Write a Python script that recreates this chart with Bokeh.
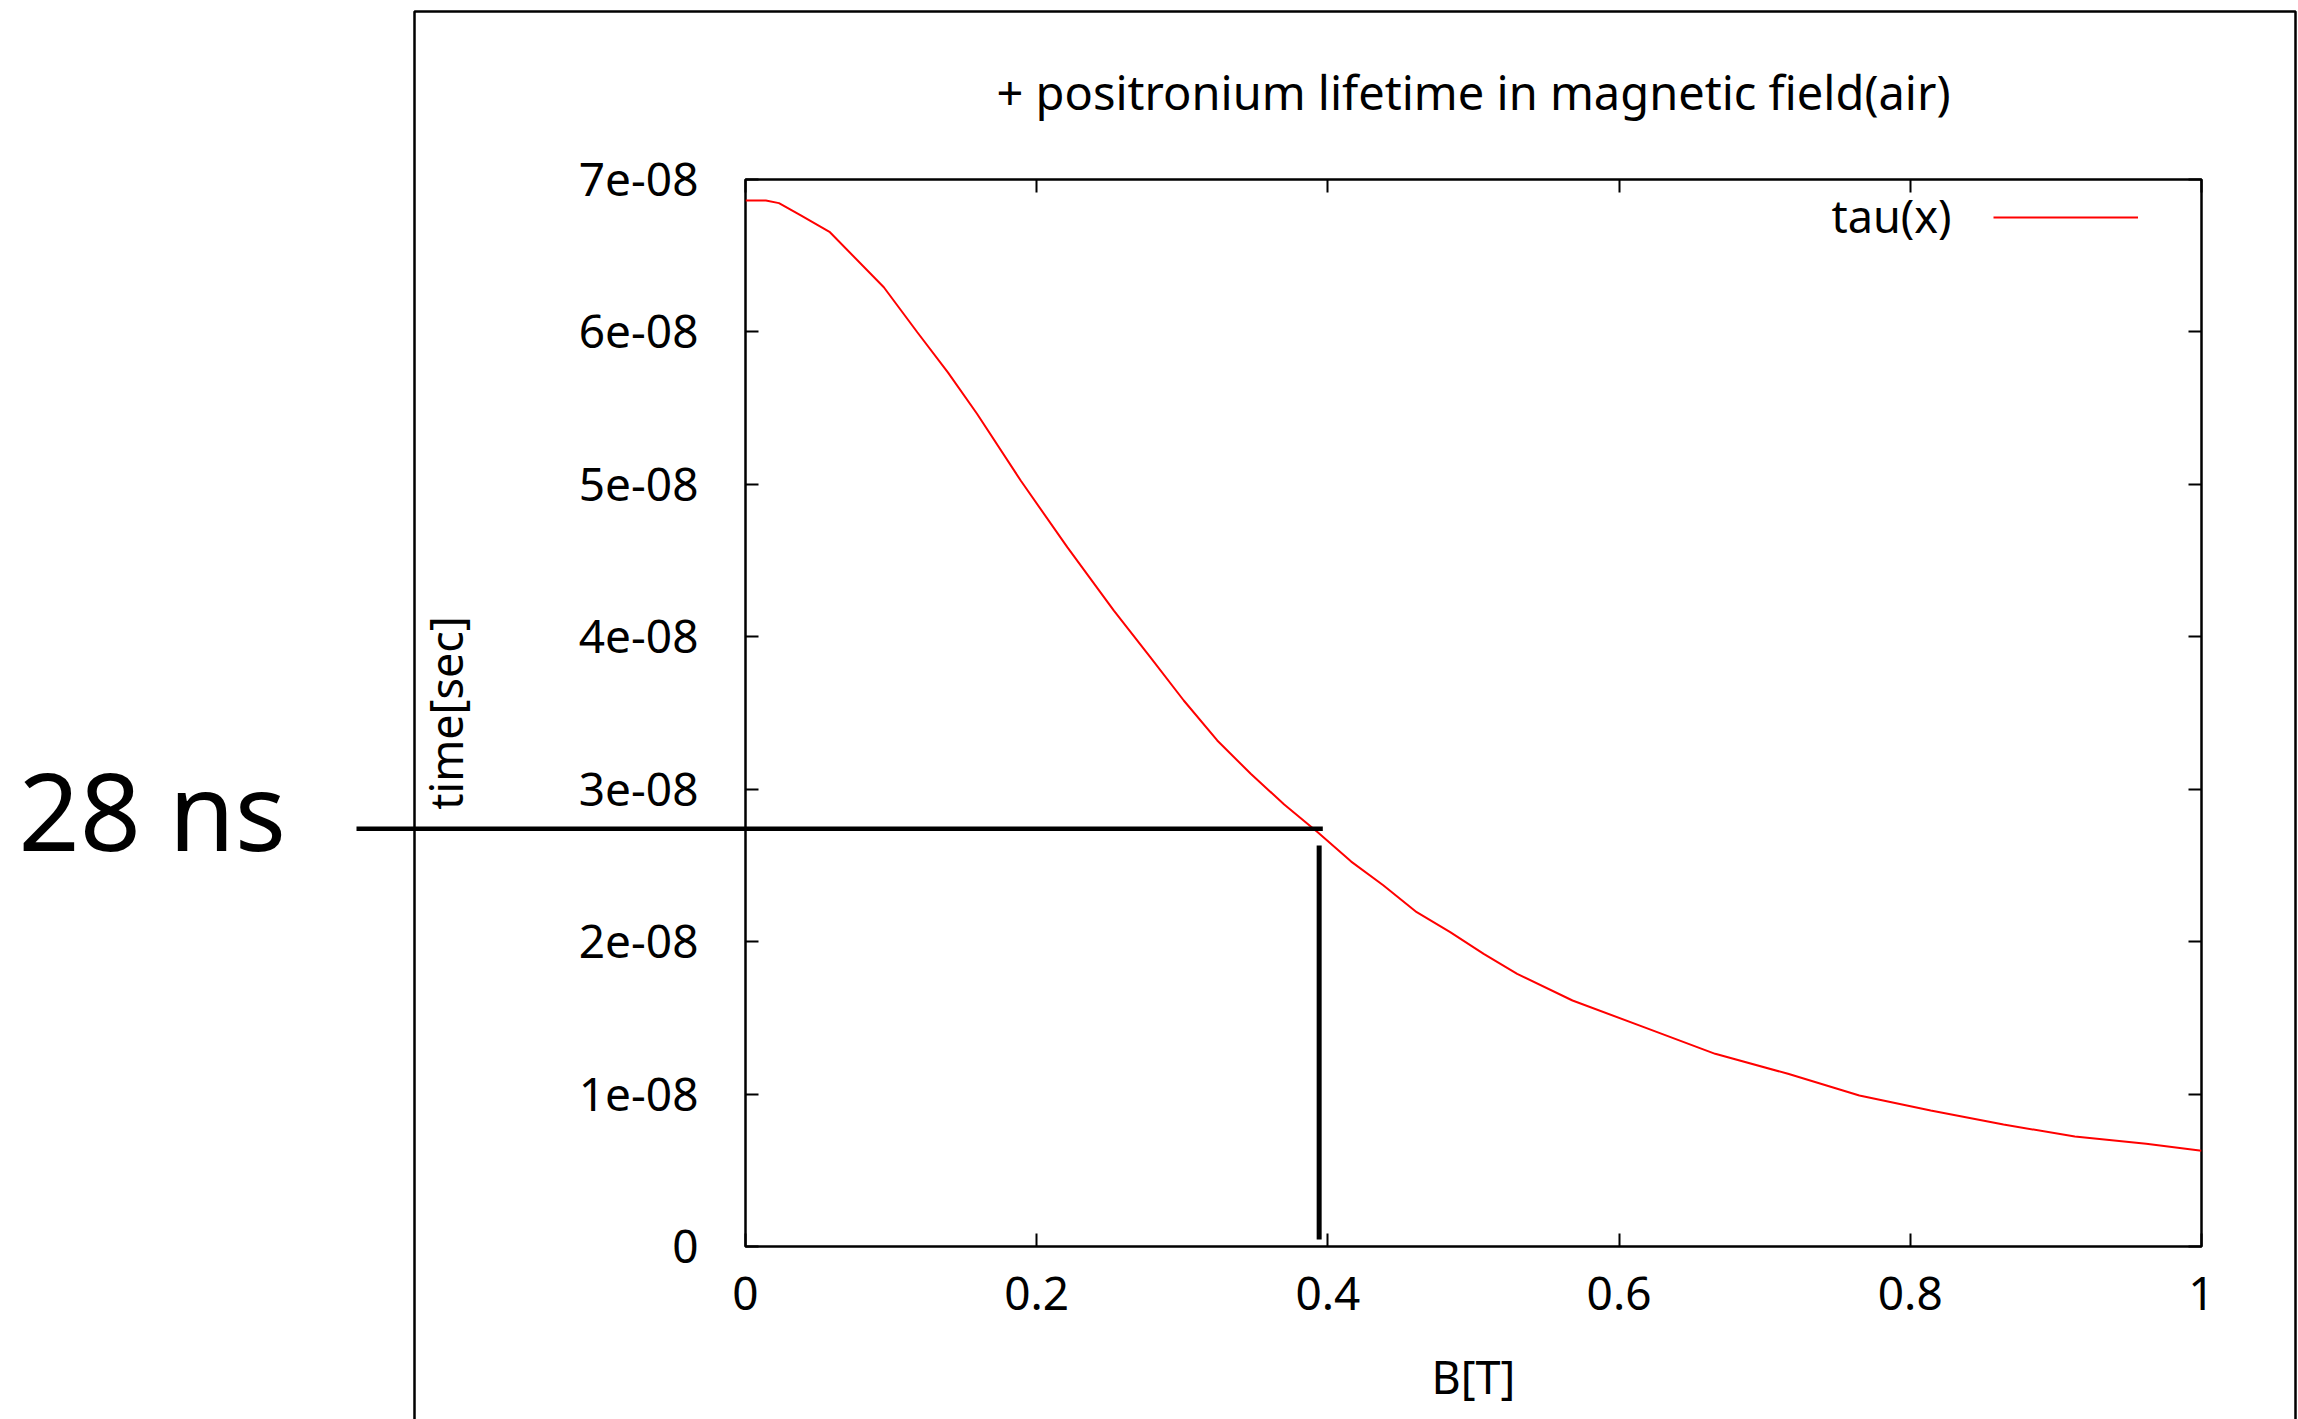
from bokeh.plotting import figure
from bokeh.models import (LinearAxis, Range1d, Label, Legend, LegendItem, FixedTicker,
                          CustomJSTickFormatter)
from bokeh.core.properties import value
from bokeh.embed import file_html
from bokeh.resources import INLINE

# ---------------- data ----------------
B_field = [0.000, 0.014, 0.023, 0.038, 0.058, 0.095, 0.118, 0.139, 0.159, 0.189,
           0.221, 0.253, 0.278, 0.301, 0.324, 0.347, 0.370, 0.393, 0.416, 0.438,
           0.461, 0.484, 0.507, 0.530, 0.568, 0.617, 0.666, 0.716, 0.765, 0.814,
           0.864, 0.913, 0.962, 1.000]
tau_ns10 = [6.862, 6.862, 6.845, 6.764, 6.654, 6.293, 5.998, 5.735, 5.463, 5.025,
            4.588, 4.172, 3.866, 3.582, 3.320, 3.101, 2.900, 2.718, 2.525, 2.370,
            2.193, 2.062, 1.920, 1.789, 1.614, 1.439, 1.264, 1.133, 0.991, 0.892,
            0.800, 0.722, 0.674, 0.628]
tau_sec = [v * 1e-8 for v in tau_ns10]

x_ticks = [0, 0.2, 0.4, 0.6, 0.8, 1.0]
x_tick_labels = ["0", "0.2", "0.4", "0.6", "0.8", "1"]
y_ticks = [0, 1e-08, 2e-08, 3e-08, 4e-08, 5e-08, 6e-08, 7e-08]
y_tick_labels = ["0", "1e-08", "2e-08", "3e-08", "4e-08", "5e-08", "6e-08", "7e-08"]

title_text = "+ positronium lifetime in magnetic field(air)"
x_label = "B[T]"
y_label = "time[sec]"
series_name = "tau(x)"
marker_text = "28 ns"
marker_B = 0.395       # field where the marker lines meet
marker_tau = 2.74e-08  # lifetime of the horizontal marker line

# ---------------- layout (pixels) ----------------
W, H = 2298, 1419
FL, FR, FT, FB = 745, 2201, 179, 1246
X0, X1 = 0.0, 1.0
Y0, Y1 = 0.0, 7e-08
FONT = "Noto Sans"


def bx(px):
    return X0 + (px - FL) / (FR - FL) * (X1 - X0)


def ty(py):
    return Y0 + (FB - py) / (FB - FT) * (Y1 - Y0)


p = figure(width=W, height=H, x_range=Range1d(X0, X1), y_range=Range1d(Y0, Y1),
           output_backend="svg", toolbar_location=None,
           x_axis_location=None, y_axis_location=None,
           min_border_left=FL, min_border_right=W - FR,
           min_border_top=FT, min_border_bottom=H - FB)
p.xgrid.visible = False
p.ygrid.visible = False
p.outline_line_color = "black"
p.outline_line_width = 2.5
p.background_fill_color = "white"
p.border_fill_color = "white"

p.title.text = title_text
p.title.align = "center"
p.title.text_font = FONT
p.title.text_font_size = "47px"
p.title.text_font_style = "normal"
p.title.text_color = "black"
p.title.standoff = 111


def style_axis(ax):
    ax.axis_line_color = None
    ax.major_tick_in = 13
    ax.major_tick_out = 0
    ax.minor_tick_in = 0
    ax.minor_tick_out = 0
    ax.major_tick_line_color = "black"
    ax.major_tick_line_width = 2
    ax.major_label_text_font = FONT
    ax.major_label_text_font_size = "46px"
    ax.major_label_text_color = "black"
    ax.axis_label_text_font = FONT
    ax.axis_label_text_font_size = "45px"
    ax.axis_label_text_font_style = "normal"
    ax.axis_label_text_color = "black"


xb = LinearAxis(ticker=FixedTicker(ticks=x_ticks), axis_label=x_label,
                major_label_overrides=dict(zip(x_ticks, x_tick_labels)))
style_axis(xb)
xb.major_label_standoff = 30
xb.axis_label_standoff = 33

yl = LinearAxis(ticker=FixedTicker(ticks=y_ticks), axis_label=y_label,
                major_label_overrides=dict(zip(y_ticks, y_tick_labels)))
style_axis(yl)
yl.major_label_standoff = 47
yl.axis_label_standoff = 100

xa = LinearAxis(ticker=FixedTicker(ticks=x_ticks),
                formatter=CustomJSTickFormatter(code="return ''"))
style_axis(xa)
xa.major_label_standoff = 0
xa.major_label_text_font_size = "1px"
yr = LinearAxis(ticker=FixedTicker(ticks=y_ticks),
                formatter=CustomJSTickFormatter(code="return ''"))
style_axis(yr)
yr.major_label_standoff = 0
yr.major_label_text_font_size = "1px"

p.add_layout(xb, "below")
p.add_layout(yl, "left")
p.add_layout(xa, "above")
p.add_layout(yr, "right")

curve = p.line(B_field, tau_sec, line_color="#ff0000", line_width=2)

# legend: key line (Bokeh legend) with the name written to its left, gnuplot style
legend = Legend(items=[LegendItem(label=" ", renderers=[curve])],
                location=(1993 - FL, FB - 257), orientation="vertical",
                padding=0, margin=0, spacing=0,
                glyph_width=145, glyph_height=80, label_standoff=0,
                label_text_font=FONT, label_text_font_size="10px",
                border_line_color=None, background_fill_alpha=0)
p.add_layout(legend)
p.add_layout(Label(x=bx(1951), y=ty(215), text=series_name, text_font=FONT,
                   text_font_size="45px", text_color="black",
                   text_align="right", text_baseline="middle"))

# window frame around the gnuplot picture (drawn above everything, not clipped)
p.line(x=[bx(414), bx(414), bx(2295), bx(2295)], y=[ty(1500), ty(11), ty(11), ty(1500)],
       line_color="black", line_width=2.5, level="overlay")

# marker lines and their label
p.segment(x0=[bx(356)], y0=[marker_tau], x1=[marker_B + 0.0015], y1=[marker_tau],
          line_color="black", line_width=4.5, level="overlay")
p.segment(x0=[marker_B - 0.001], y0=[ty(845)], x1=[marker_B - 0.001], y1=[ty(1239)],
          line_color="black", line_width=5, level="overlay")
p.text(x=[bx(18)], y=[ty(809)], text=[marker_text], text_font=value(FONT),
       text_font_size=value("107px"), text_color="black",
       text_align="left", text_baseline="middle", level="overlay")

open("out.html", "w").write(file_html(p, INLINE))
